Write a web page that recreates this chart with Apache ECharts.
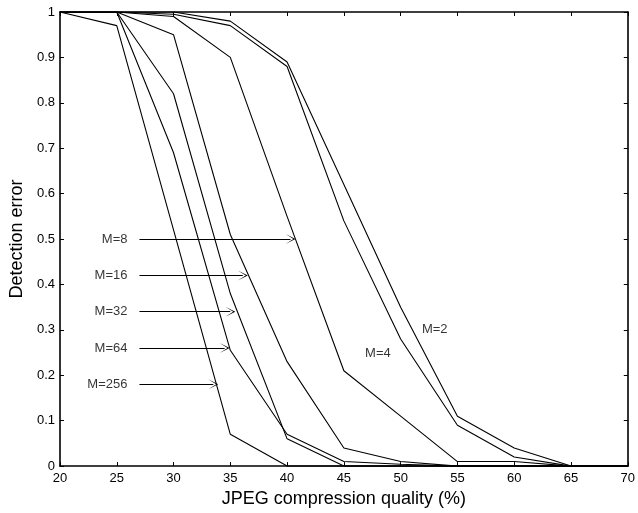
<!DOCTYPE html>
<html><head><meta charset="utf-8">
<script src="https://cdn.jsdelivr.net/npm/echarts@6/dist/echarts.min.js"></script>
<style>html,body{margin:0;padding:0;background:#fff}#c{width:638px;height:513px}</style>
</head><body><div id="c"></div>
<script>
// x categories (JPEG quality, %)
const quality = [20, 25, 30, 35, 40, 45, 50, 55, 60, 65, 70];
// detection error per M
const seriesNames = ['M=2', 'M=4', 'M=8', 'M=16', 'M=32', 'M=64', 'M=256'];
const errM2   = [1, 1, 1,     0.98,  0.89, 0.62, 0.35,  0.11, 0.04, 0, 0];
const errM4   = [1, 1, 0.995, 0.97,  0.88, 0.54, 0.28,  0.09, 0.02, 0, 0];
const errM8   = [1, 1, 0.99,  0.90,  0.55, 0.21, 0.11,  0.01, 0.01, 0, 0];
const errM16  = [1, 1, 0.95,  0.51,  0.23, 0.04, 0.01,  0,    0,    0, 0];
const errM32  = [1, 1, 0.82,  0.38,  0.06, 0,    0,     0,    0,    0, 0];
const errM64  = [1, 1, 0.69,  0.255, 0.07, 0.01, 0.004, 0,    0,    0, 0];
const errM256 = [1, 0.97, 0.52, 0.07, 0,   0,    0,     0,    0,    0, 0];
const allErr = [errM2, errM4, errM8, errM16, errM32, errM64, errM256];

// arrow annotations
const arrowLabels = ['M=8', 'M=16', 'M=32', 'M=64', 'M=256'];
const arrowY      = [0.5, 0.42, 0.34, 0.26, 0.18];
const arrowStartX = [27, 27, 27, 27, 27];
const arrowTipX   = [40.3, 36.1, 35.0, 34.5, 33.5];
// inline labels
const inlineLabels = ['M=2', 'M=4'];
const inlineX = [53.0, 48.0];
const inlineY = [0.30, 0.248];

const FONT = '"Liberation Sans", Arial, Helvetica, sans-serif';
const axisLine = {show: true, onZero: false, lineStyle: {color: '#000', width: 1.6}};
const axisTick = {show: true, inside: true, length: 4, lineStyle: {color: '#000', width: 1}};

const chart = echarts.init(document.getElementById('c'), null, {renderer: 'canvas'});

const series = allErr.map((vals, i) => ({
  name: seriesNames[i],
  type: 'line',
  xAxisIndex: 0, yAxisIndex: 0,
  data: quality.map((q, j) => [q, vals[j]]),
  symbol: 'none',
  lineStyle: {color: '#000', width: 1.1},
  animation: false,
  z: 3
}));

series.push({
  type: 'lines',
  coordinateSystem: 'cartesian2d',
  xAxisIndex: 0, yAxisIndex: 0,
  data: arrowLabels.map((l, i) => ({coords: [[arrowStartX[i], arrowY[i]], [arrowTipX[i], arrowY[i]]]})),
  symbol: ['none', 'path://M5,0 L10,12 L5,2.5 L0,12 Z'],
  symbolSize: [7, 10],
  lineStyle: {color: '#000', width: 1, opacity: 1, curveness: 0},
  silent: true,
  animation: false,
  z: 4
});

series.push({
  type: 'scatter',
  xAxisIndex: 0, yAxisIndex: 0,
  data: arrowLabels.map((l, i) => ({name: l, value: [arrowStartX[i], arrowY[i]]})),
  symbolSize: 0,
  label: {show: true, formatter: '{b}', position: 'left', distance: 12, color: '#000', fontSize: 13, fontFamily: FONT},
  silent: true, animation: false, z: 5
});

series.push({
  type: 'scatter',
  xAxisIndex: 0, yAxisIndex: 0,
  data: inlineLabels.map((l, i) => ({name: l, value: [inlineX[i], inlineY[i]]})),
  symbolSize: 0,
  label: {show: true, formatter: '{b}', position: 'inside', color: '#000', fontSize: 13, fontFamily: FONT},
  silent: true, animation: false, z: 5
});

chart.setOption({
  animation: false,
  backgroundColor: '#fff',
  grid: {left: 53, right: 7, top: 12, bottom: 46, containLabel: false},
  xAxis: [{
    type: 'value', min: 20, max: 70, interval: 5, position: 'bottom',
    axisLine, axisTick,
    axisLabel: {color: '#000', fontSize: 13, margin: 6, fontFamily: FONT},
    splitLine: {show: false},
    name: 'JPEG compression quality (%)', nameLocation: 'middle', nameGap: 20,
    nameTextStyle: {color: '#000', fontSize: 18, fontFamily: FONT}
  }, {
    type: 'value', min: 20, max: 70, interval: 5, position: 'top',
    axisLine, axisTick, axisLabel: {show: false}, splitLine: {show: false}
  }],
  yAxis: [{
    type: 'value', min: 0, max: 1, interval: 0.1, position: 'left',
    axisLine, axisTick,
    axisLabel: {color: '#000', fontSize: 13, margin: 5, fontFamily: FONT},
    splitLine: {show: false},
    name: 'Detection error', nameLocation: 'middle', nameGap: 24,
    nameTextStyle: {color: '#000', fontSize: 18, fontFamily: FONT}
  }, {
    type: 'value', min: 0, max: 1, interval: 0.1, position: 'right',
    axisLine, axisTick, axisLabel: {show: false}, splitLine: {show: false}
  }],
  series
});
</script>
</body></html>
